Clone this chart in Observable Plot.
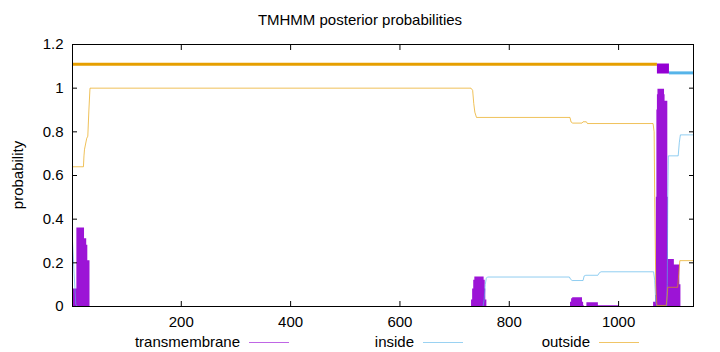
<!DOCTYPE html>
<html><head><meta charset="utf-8">
<script src="https://cdn.jsdelivr.net/npm/d3@7"></script>
<script src="https://cdn.jsdelivr.net/npm/@observablehq/plot@0.6"></script>
<style>
body{margin:0;background:#fff;font-family:"Liberation Sans",Arial,sans-serif;color:#000;}
#wrap{position:relative;width:720px;height:352px;overflow:hidden;}
#title{position:absolute;left:0;top:11px;width:720px;text-align:center;font-size:15px;line-height:18px;}
#ylab{position:absolute;left:17px;top:175px;font-size:15px;transform:translate(-50%,-50%) rotate(-90deg);white-space:nowrap;}
.legtxt{position:absolute;top:333px;font-size:15px;line-height:18px;text-align:right;white-space:nowrap;}
.legline{position:absolute;top:342px;height:1px;width:40px;}
</style></head>
<body><div id="wrap"><div id="title">TMHMM posterior probabilities</div><div id="ylab">probability</div></div>
<script>
// ---- data ----
const seqLength = 1137;
const tmPos  = [1, 9, 23, 27, 29, 33, 731, 733, 735, 737, 754, 756, 757, 759, 912, 914, 916, 934, 936, 937, 942, 963, 1001, 1064, 1068, 1069, 1070, 1071, 1072, 1084, 1085, 1090, 1091, 1102, 1112, 1114, 1137];
const tmProb = [0.08, 0.36, 0.31, 0.28, 0.21, 0, 0.03, 0.08, 0.12, 0.135, 0.12, 0.08, 0.03, 0, 0.02, 0.035, 0.04, 0.02, 0.005, 0, 0.017, 0.004, 0, 0.02, 0.05, 0.5, 0.9, 0.97, 0.995, 0.97, 0.94, 0.5, 0.215, 0.19, 0.1, 0, 0];
const insidePos  = [1, 4, 7, 10, 752, 754, 756, 758, 760, 910, 912, 915, 935, 937, 940, 962, 965, 968, 1064, 1066, 1068, 1070, 1088, 1089, 1090, 1091, 1109, 1111, 1113, 1137];
const insideProb = [0.30, 0.15, 0.01, 0, 0, 0.03, 0.1, 0.13, 0.135, 0.135, 0.125, 0.119, 0.119, 0.14, 0.143, 0.143, 0.155, 0.159, 0.159, 0.12, 0.02, 0.003, 0.003, 0.1, 0.5, 0.69, 0.69, 0.75, 0.786, 0.786];
const outsidePos  = [1, 21, 22, 23, 27, 29, 31, 33, 730, 733, 735, 737, 740, 911, 913, 916, 933, 935, 941, 943, 1063, 1065, 1066, 1068, 1070, 1087, 1089, 1090, 1108, 1110, 1112, 1137];
const outsideProb = [0.64, 0.64, 0.69, 0.72, 0.77, 0.78, 0.9, 1.0, 1.0, 0.99, 0.93, 0.89, 0.866, 0.866, 0.845, 0.84, 0.84, 0.846, 0.846, 0.838, 0.838, 0.8, 0.5, 0.1, 0.005, 0.005, 0.05, 0.088, 0.088, 0.15, 0.21, 0.21];
const topoType  = ["outside", "transmembrane", "inside"];
const topoStart = [1, 1071, 1093];
const topoEnd   = [1071, 1093, 1137];
const topoLevel = [1.11, 1.09, 1.07];
const xTicks = [200, 400, 600, 800, 1000];
const yTicks = [0, 0.2, 0.4, 0.6, 0.8, 1, 1.2];
const seriesNames = ["transmembrane", "inside", "outside"];

// ---- styles ----
const colors = {transmembrane: "#9400D3", inside: "#56B4E9", outside: "#E69F00"};
const toPts = (xs, ys) => xs.map((x, i) => ({x, y: ys[i]}));
const tm = toPts(tmPos, tmProb);
const inside = toPts(insidePos, insideProb);
const outside = toPts(outsidePos, outsideProb);
const topo = topoType.map((t, i) => ({type: t, x1: topoStart[i], x2: topoEnd[i], y: topoLevel[i]}));

const chart = Plot.plot({
  width: 720, height: 352,
  marginLeft: 72, marginRight: 27, marginTop: 44, marginBottom: 46,
  style: {fontFamily: "Liberation Sans, Arial, sans-serif", fontSize: "15px", color: "#000", background: "transparent"},
  x: {domain: [1, seqLength]},
  y: {domain: [0, 1.2]},
  marks: [
    Plot.areaY(tm, {x: "x", y: "y", curve: "step-after", fill: colors.transmembrane, fillOpacity: 0.92}),
    Plot.lineY(inside, {x: "x", y: "y", stroke: colors.inside, strokeWidth: 1, strokeOpacity: 0.65}),
    Plot.lineY(outside, {x: "x", y: "y", stroke: colors.outside, strokeWidth: 1, strokeOpacity: 0.65}),
    Plot.ruleY(topo.filter(d => d.type !== "transmembrane"), {x1: "x1", x2: "x2", y: "y", stroke: d => colors[d.type], strokeWidth: 3}),
    Plot.ruleY(topo.filter(d => d.type === "transmembrane"), {x1: "x1", x2: "x2", y: "y", stroke: d => colors[d.type], strokeWidth: 10}),
    Plot.frame({stroke: "#000", strokeWidth: 1}),
    Plot.axisY({ticks: yTicks, tickSize: -5, tickPadding: 14, tickFormat: d3.format("~g"), label: null}),
    Plot.axisY({anchor: "right", ticks: yTicks, tickSize: -5, tickFormat: () => "", label: null}),
    Plot.axisX({ticks: xTicks, tickSize: -5, tickPadding: 15, tickFormat: d3.format("d"), label: null}),
    Plot.axisX({anchor: "top", ticks: xTicks, tickSize: -5, tickFormat: () => "", label: null})
  ]
});
const wrap = document.getElementById("wrap");
chart.style.position = "absolute"; chart.style.left = "0"; chart.style.top = "0";
wrap.insertBefore(chart, wrap.firstChild);

// legend (below plot area)
const legTextRight = [240, 414, 590];
seriesNames.forEach((name, i) => {
  const t = document.createElement("div");
  t.className = "legtxt"; t.textContent = name;
  t.style.right = (720 - legTextRight[i]) + "px";
  wrap.appendChild(t);
  const l = document.createElement("div");
  l.className = "legline"; l.style.left = (legTextRight[i] + 9) + "px";
  l.style.background = colors[name]; l.style.opacity = 0.6;
  wrap.appendChild(l);
});
</script></body></html>
